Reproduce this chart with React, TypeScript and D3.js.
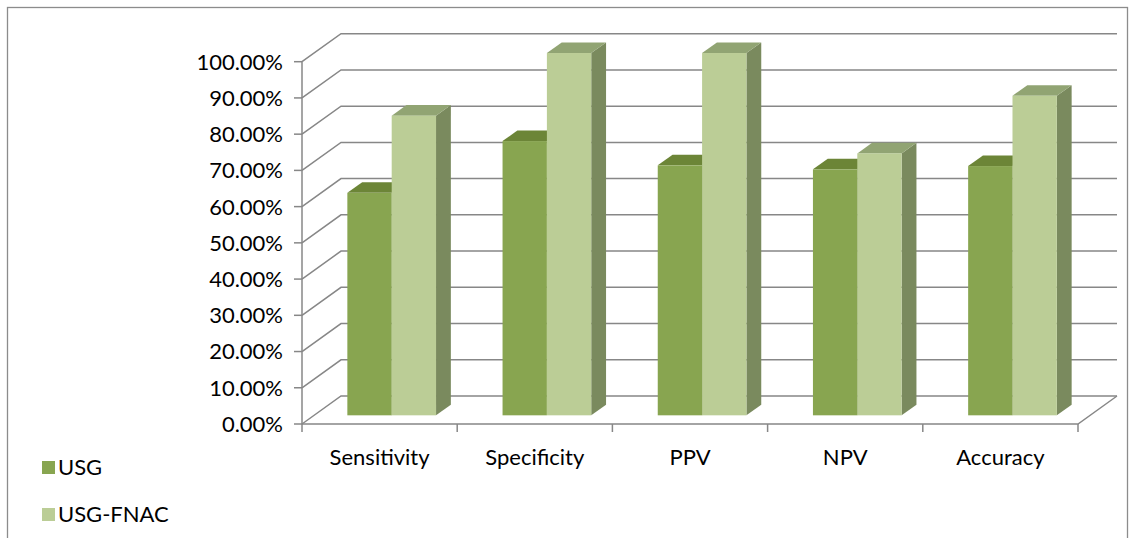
import React from 'react';
import * as d3 from 'd3';

const categories = ['Sensitivity', 'Specificity', 'PPV', 'NPV', 'Accuracy'];
const seriesNames = ['USG', 'USG-FNAC'];
const usgValues = [0.614, 0.757, 0.69, 0.679, 0.688];
const fnacValues = [0.827, 1.0, 1.0, 0.723, 0.882];
const yTicks = [0, 0.1, 0.2, 0.3, 0.4, 0.5, 0.6, 0.7, 0.8, 0.9, 1.0];

const W = 1133;
const H = 538;

// 3d look: full floor depth and where the bars sit inside it
const depthX = 39;
const depthY = -28;
const barFront = 0.31;
const barBack = 0.69;

const colors = [
  { front: '#88a550', top: '#6c8537', side: '#657d36' },
  { front: '#bbcd96', top: '#91a473', side: '#7a8a5e' },
];

const FONT = 'Lato, "Open Sans", sans-serif';
const FS = 22;

const App = () => {
  const x = d3.scaleBand().domain(categories).range([302, 1078]).padding(0);
  const xInner = d3
    .scaleBand()
    .domain(seriesNames)
    .range([0, x.bandwidth()])
    .paddingInner(0)
    .paddingOuter(0.75);
  const y = d3.scaleLinear().domain([0, 1]).range([424, 61.7]);
  const fmt = d3.format('.2%');

  const fx = barFront * depthX;
  const fy = barFront * depthY;
  const bx = barBack * depthX;
  const by = barBack * depthY;
  const sx = bx - fx;
  const sy = by - fy;

  const bars: React.ReactNode[] = [];
  categories.forEach((c, i) => {
    [usgValues, fnacValues].forEach((vals, s) => {
      const x0 = x(c)! + xInner(seriesNames[s])! + fx;
      const x1 = x0 + xInner.bandwidth();
      const yTop = y(vals[i]) + fy;
      const yBot = y(0) + fy;
      const col = colors[s];
      bars.push(
        <g key={c + s}>
          <polygon
            points={`${x1},${yTop} ${x1 + sx},${yTop + sy} ${x1 + sx},${yBot + sy} ${x1},${yBot}`}
            fill={col.side}
          />
          <polygon
            points={`${x0},${yTop} ${x0 + sx},${yTop + sy} ${x1 + sx},${yTop + sy} ${x1},${yTop}`}
            fill={col.top}
          />
          <rect x={x0} y={yTop} width={x1 - x0} height={yBot - yTop} fill={col.front} />
        </g>
      );
    });
  });

  const x0 = x.range()[0];
  const x1 = x.range()[1];

  return (
    <svg
      width={W}
      height={H}
      style={{ position: 'absolute', left: 0, top: 0, background: '#fff' }}
    >
      <rect x={7.5} y={7.5} width={1120} height={560} fill="none" stroke="#8c8c8c" strokeWidth={1.3} />

      {/* walls gridlines */}
      {yTicks.map(t => (
        <polyline
          key={'g' + t}
          points={`${x0},${y(t)} ${x0 + depthX},${y(t) + depthY} ${x1 + depthX},${y(t) + depthY}`}
          fill="none"
          stroke="#878787"
          strokeWidth={1.5}
        />
      ))}
      {/* floor */}
      <polyline
        points={`${x0},${y(0)} ${x1},${y(0)} ${x1 + depthX},${y(0) + depthY}`}
        fill="none"
        stroke="#878787"
        strokeWidth={1.5}
      />
      {/* value axis */}
      <line x1={x0} x2={x0} y1={y(1)} y2={y(0)} stroke="#878787" strokeWidth={1.5} />
      {yTicks.map(t => (
        <g key={'t' + t}>
          <line x1={x0 - 8} x2={x0} y1={y(t)} y2={y(t)} stroke="#878787" strokeWidth={1.5} />
          <text
            x={283}
            y={y(t)}
            dy="0.36em"
            textAnchor="end"
            fontFamily={FONT}
            fontSize={FS}
            fill="#000"
          >
            {fmt(t)}
          </text>
        </g>
      ))}
      {/* category ticks */}
      {[...categories.map(c => x(c)!), x1].map((p, i) => (
        <line key={'ct' + i} x1={p} x2={p} y1={y(0)} y2={y(0) + 8} stroke="#878787" strokeWidth={1.5} />
      ))}

      {bars}

      {categories.map(c => (
        <text
          key={'l' + c}
          x={x(c)! + x.bandwidth() / 2}
          y={457}
          dy="0.36em"
          textAnchor="middle"
          fontFamily={FONT}
          fontSize={FS}
          fill="#000"
        >
          {c}
        </text>
      ))}

      {/* legend */}
      {seriesNames.map((s, i) => (
        <g key={'lg' + s} transform={`translate(42, ${461 + i * 47})`}>
          <rect width={13} height={13} fill={colors[i].front} />
          <text x={16} y={6.5} dy="0.36em" fontFamily={FONT} fontSize={FS} fill="#000">
            {s}
          </text>
        </g>
      ))}
    </svg>
  );
};

export default App;
